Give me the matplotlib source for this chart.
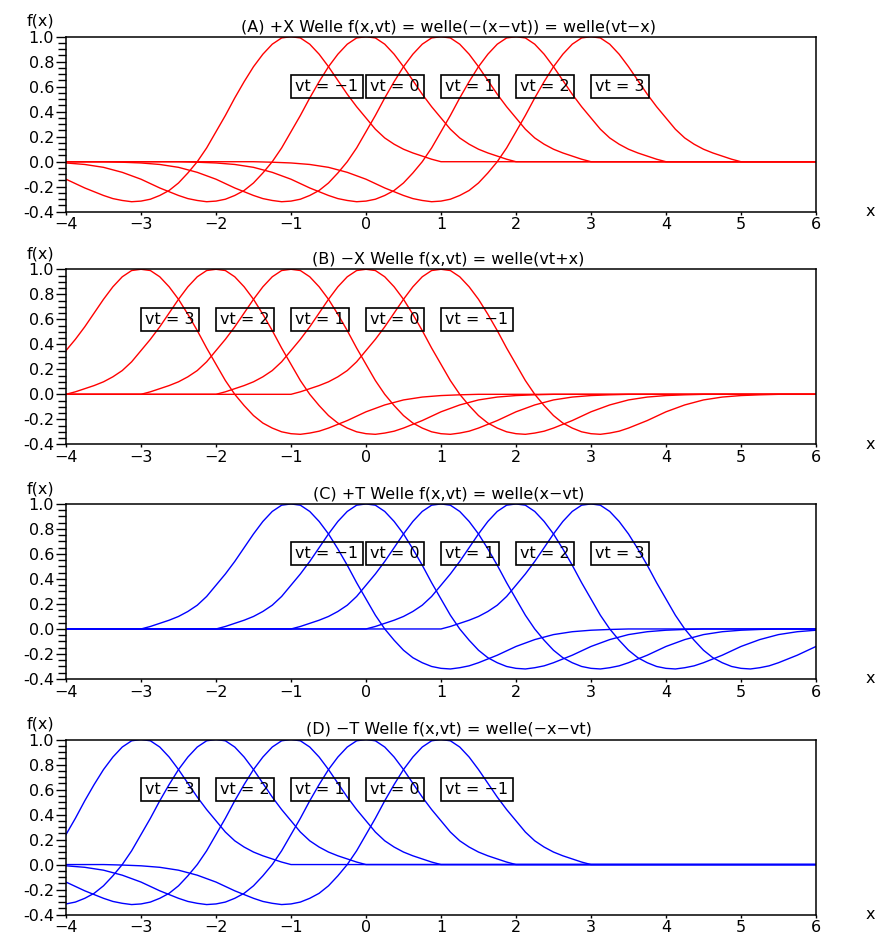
import numpy as np
import matplotlib
matplotlib.use("Agg")
import matplotlib.pyplot as plt
from matplotlib.ticker import MultipleLocator

# pulse shape welle(u) (u = argument of welle)
welle_u = [-11.0, -2.0, -1.875, -1.75, -1.625, -1.5, -1.375, -1.25, -1.125, -1.0,
           -0.875, -0.75, -0.625, -0.5, -0.375, -0.25, -0.125, 0.0,
           0.125, 0.25, 0.375, 0.5, 0.625, 0.75, 0.875, 1.0, 1.125, 1.25,
           1.375, 1.5, 1.625, 1.75, 1.875, 2.0, 2.125, 2.25, 2.375, 2.5,
           2.625, 2.75, 2.875, 3.0, 3.25, 3.5, 3.75, 4.0, 4.25, 4.5, 11.0]
welle_f = [0.0, 0.0, 0.02, 0.045, 0.07, 0.10, 0.14, 0.19, 0.26, 0.35,
           0.44, 0.54, 0.65, 0.76, 0.86, 0.94, 0.99, 1.0,
           0.99, 0.94, 0.86, 0.76, 0.64, 0.51, 0.37, 0.24, 0.11, 0.0,
           -0.09, -0.17, -0.23, -0.27, -0.30, -0.315, -0.32, -0.31, -0.295, -0.27,
           -0.24, -0.21, -0.175, -0.14, -0.085, -0.045, -0.022, -0.01, -0.004, 0.0, 0.0]

vt_values = [-1, 0, 1, 2, 3]

titles = ["(A) +X Welle f(x,vt) = welle(\u2212(x\u2212vt)) = welle(vt\u2212x)",
          "(B) \u2212X Welle f(x,vt) = welle(vt+x)",
          "(C) +T Welle f(x,vt) = welle(x\u2212vt)",
          "(D) \u2212T Welle f(x,vt) = welle(\u2212x\u2212vt)"]
# x = sx*u + sv*vt for each panel
signs = [(-1, 1), (1, -1), (1, 1), (-1, -1)]
colors = ["#ff0000", "#ff0000", "#0000ff", "#0000ff"]

xticks = [-4, -3, -2, -1, 0, 1, 2, 3, 4, 5, 6]
yticks = [-0.4, -0.2, 0.0, 0.2, 0.4, 0.6, 0.8, 1.0]

plt.rcParams['font.family'] = ['DejaVu Sans']
fig = plt.figure(figsize=(8.79, 9.36), dpi=100)

bottoms = [0.7738, 0.5253, 0.2746, 0.0229]
u = np.array(welle_u)
f = np.array(welle_f)

for k in range(4):
    ax = fig.add_axes([0.0751, bottoms[k], 0.8532, 0.187])
    sx, sv = signs[k]
    for vt in vt_values:
        ax.plot(sx*u + sv*vt, f, color=colors[k], lw=1.0)
        ax.annotate("vt = %s" % str(vt).replace("-", "\u2212"), (sv*vt, 0.6),
                    xytext=(3.2, 0), textcoords='offset points', ha='left', va='center',
                    fontsize=11.5,
                    bbox=dict(boxstyle='square,pad=0.25', fc='none', ec='black', lw=1.2))
    ax.set_xlim(-4, 6)
    ax.set_ylim(-0.4, 1.0)
    ax.set_xticks(xticks)
    ax.set_yticks(yticks)
    ax.set_yticklabels(["%.1f" % y for y in yticks])
    ax.set_xticklabels([str(x).replace("-", "\u2212") for x in xticks])
    ax.yaxis.set_minor_locator(MultipleLocator(0.05))
    ax.tick_params(axis='y', which='major', direction='out', length=7, width=1.0,
                   pad=1.5, labelsize=11.5)
    ax.tick_params(axis='y', which='minor', direction='out', length=5.5, width=1.0)
    ax.tick_params(axis='x', which='major', direction='out', length=2.5, width=1.0,
                   pad=1.5, labelsize=11.5)
    for s in ax.spines.values():
        s.set_linewidth(1.1)
    ax.set_title(titles[k], fontsize=11.5, pad=4, x=0.51)
    ax.text(-0.052, 1.045, "f(x)", transform=ax.transAxes, ha='left', va='bottom',
            fontsize=11.5)
    ax.text(1.066, 0.0, "x", transform=ax.transAxes, ha='left', va='center',
            fontsize=11.5)

plt.savefig("out.png", dpi=100)
